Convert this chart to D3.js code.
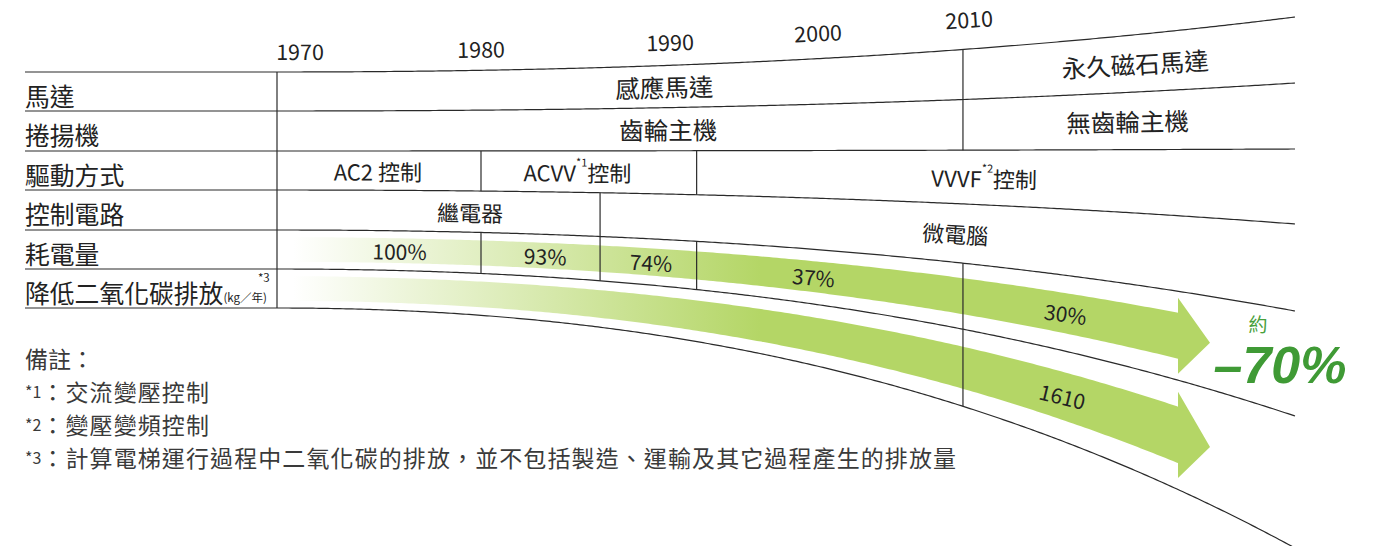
<!DOCTYPE html>
<html><head><meta charset="utf-8">
<script src="https://cdn.jsdelivr.net/npm/d3@7"></script>
<style>body{margin:0;background:#fff;} svg{display:block}</style>
</head><body><svg id="c" width="1383" height="546"></svg>
<script>
// ---------------- data ----------------
const years = [1970, 1980, 1990, 2000, 2010];
const rowLabels = ["馬達", "捲揚機", "驅動方式", "控制電路", "耗電量", "降低二氧化碳排放"];
// [label, fromYear, toYear, labelYear]  (null = edge of table)
const motorCells   = [["感應馬達", null, 2009.6, 1989.7], ["永久磁石馬達", 2009.6, null, 2021]];
const hoistCells   = [["齒輪主機", null, 2009.6, 1989.9], ["無齒輪主機", 2009.6, null, 2020.5]];
const driveCells   = [["AC2 控制", null, 1980, 1974.3], ["ACVV|*1|控制", 1980, 1991.8, 1985.1], ["VVVF|*2|控制", 1991.8, null, 2011]];
const circuitCells = [["繼電器", null, 1986.3, 1979.4], ["微電腦", 1986.3, null, 2009.1]];
const powerValues  = ["100%", "93%", "74%", "37%", "30%"];
const powerEras    = [[null, 1980, 1975.5], [1980, 1986.3, 1983.4], [1986.3, 1991.8, 1989], [1991.8, 2009.6, 1999.7], [2009.6, null, 2016.4]];
const co2Values    = ["", "1610"];
const co2Eras      = [[null, 2009.6, 1990], [2009.6, null, 2016.2]];
const reductionLabel = "約";
const reductionValue = "–70%";
const noteTitle = "備註：";
const noteMarks = ["*1", "*2", "*3"];
const noteTexts = ["：交流變壓控制", "：變壓變頻控制", "：計算電梯運行過程中二氧化碳的排放，並不包括製造、運輸及其它過程產生的排放量"];

// ---------------- layout ----------------
const svg = d3.select("#c");
const FONT = "'Noto Sans CJK TC','Noto Sans',sans-serif";
const labelLeft = 25, tableLeft = 277, tableRight = 1295;
const lineY0 = [72, 111, 151, 190, 230, 269, 308];
const lineBend = [-55, -28, -2, 34, 81, 147, 240];
const x = d3.scaleLinear().domain(years).range([300, 481, 670, 818, 969]);
const span = tableRight - tableLeft;
const g = t => 0.7 * t * t + 0.3 * t * t * t;
const gp = t => 1.4 * t + 0.9 * t * t;
const tOf = px => Math.max(0, (px - tableLeft) / span);
const lineY = (i, px) => lineY0[i] + lineBend[i] * g(tOf(px));
const lineSlope = (i, px) => lineBend[i] * gp(tOf(px)) / span;
const rowMid = (r, px) => (lineY(r, px) + lineY(r + 1, px)) / 2;
const rowAngle = (r, px) => Math.atan((lineSlope(r, px) + lineSlope(r + 1, px)) / 2) * 180 / Math.PI * 0.8;

// gradient
const defs = svg.append("defs");
const grad = defs.append("linearGradient").attr("id", "gr").attr("gradientUnits", "userSpaceOnUse")
  .attr("x1", 293).attr("x2", 760).attr("y1", 0).attr("y2", 0);
grad.append("stop").attr("offset", 0).attr("stop-color", "#ffffff");
grad.append("stop").attr("offset", 1).attr("stop-color", "#b4d666");

// bands with arrow heads
const bandStart = 293, shaftEnd = 1178, tipX = 1210, headExtra = 15;
function bandPath(r) {
  const mid = px => rowMid(r, px);
  const half = px => (lineY(r + 1, px) - lineY(r, px)) * (0.32 - 0.07 * tOf(px));
  const xs = d3.range(bandStart, shaftEnd, 4).concat([shaftEnd]);
  const pts = xs.map(px => [px, mid(px) - half(px)]);
  pts.push([shaftEnd, mid(shaftEnd) - half(shaftEnd) - headExtra]);
  pts.push([tipX, mid(tipX)]);
  pts.push([shaftEnd, mid(shaftEnd) + half(shaftEnd) + headExtra]);
  xs.slice().reverse().forEach(px => pts.push([px, mid(px) + half(px)]));
  return d3.line()(pts) + "Z";
}
svg.append("g").selectAll("path").data([4, 5]).join("path")
  .attr("d", d => bandPath(d)).attr("fill", "url(#gr)");

// horizontal (curved) lines
const xsLine = d3.range(tableLeft, tableRight, 3).concat([tableRight]);
svg.append("g").selectAll("path").data(lineY0.map((_, i) => i)).join("path")
  .attr("d", i => d3.line()([[labelLeft, lineY0[i]]].concat(xsLine.map(px => [px, lineY(i, px)]))))
  .attr("fill", "none").attr("stroke", "#2a2a2a").attr("stroke-width", 1.2);

// vertical dividers
const rowsCells = [motorCells, hoistCells, driveCells, circuitCells,
  powerEras.map((e, i) => [powerValues[i], e[0], e[1], e[2]]),
  co2Eras.map((e, i) => [co2Values[i], e[0], e[1], e[2]])];
const dividers = [];
rowsCells.forEach((cells, r) => {
  dividers.push([tableLeft, r]);
  cells.forEach(c => { if (c[1] != null) dividers.push([x(c[1]), r]); });
});
svg.append("g").selectAll("line").data(dividers).join("line")
  .attr("x1", d => d[0]).attr("x2", d => d[0])
  .attr("y1", d => lineY(d[1], d[0])).attr("y2", d => lineY(d[1] + 1, d[0]))
  .attr("stroke", "#2a2a2a").attr("stroke-width", 1.2);

// row labels
const rl = svg.append("g").attr("font-family", FONT).attr("fill", "#222");
rowLabels.forEach((t, r) => {
  const txt = rl.append("text").attr("x", labelLeft).attr("y", rowMid(r, 0) + 3)
    .attr("dominant-baseline", "central").attr("font-size", 24.8).text(t);
  if (r === 5) {
    txt.append("tspan").attr("font-size", 11.5).attr("dy", 5).text("(kg／年)");
    txt.append("tspan").attr("font-size", 11.5).attr("dx", -9).attr("dy", -20).text("*3");
  }
});

// cell labels
const cl = svg.append("g").attr("font-family", FONT).attr("fill", "#222");
const cellFont = [24.5, 24.5, 22, 22, 21, 21];
rowsCells.forEach((cells, r) => {
  cells.forEach(c => {
    if (!c[0]) return;
    const px = x(c[3]), py = rowMid(r, px);
    const gg = cl.append("g").attr("transform", `translate(${px},${py}) rotate(${rowAngle(r, px)})`);
    const t = gg.append("text").attr("text-anchor", "middle").attr("dominant-baseline", "central")
      .attr("font-size", cellFont[r]);
    const parts = c[0].split("|");
    if (parts.length === 3) {
      t.append("tspan").text(parts[0]);
      t.append("tspan").attr("font-size", 11).attr("dy", -10).text(parts[1]);
      t.append("tspan").attr("dy", 10).text(parts[2]);
    } else t.text(c[0]);
  });
});

// year labels along a curve above the table
const yearY = px => 50.5 - 77 * g(tOf(px));
const yearAngle = px => Math.atan(-77 * gp(tOf(px)) / span) * 180 / Math.PI * 0.6;
svg.append("g").selectAll("text").data(years).join("text")
  .attr("transform", d => `translate(${x(d)},${yearY(x(d))}) rotate(${yearAngle(x(d))})`)
  .attr("text-anchor", "middle").attr("dominant-baseline", "central")
  .attr("font-family", FONT).attr("font-size", 21.5).attr("fill", "#222").text(d => d);

// reduction annotation
const tipY = rowMid(4, tipX);
svg.append("text").attr("x", tipX + 48).attr("y", tipY - 19).attr("text-anchor", "middle")
  .attr("dominant-baseline", "central").attr("font-family", FONT).attr("font-size", 19)
  .attr("fill", "#48a03c").text(reductionLabel);
svg.append("text").attr("x", tipX + 70).attr("y", tipY + 40).attr("text-anchor", "middle")
  .attr("font-family", "'Liberation Sans',Arial,sans-serif").attr("font-weight", 700).attr("font-style", "italic")
  .attr("font-size", 52).attr("fill", "#3f9a35").text(reductionValue);

// notes
const nt = svg.append("g").attr("font-family", FONT).attr("fill", "#3a3a3a");
nt.append("text").attr("x", labelLeft).attr("y", 358).attr("dominant-baseline", "central")
  .attr("font-size", 23).text(noteTitle);
noteMarks.forEach((m, i) => {
  const t = nt.append("text").attr("x", labelLeft).attr("y", 391 + i * 33).attr("dominant-baseline", "central");
  t.append("tspan").attr("font-size", 16).text(m);
  t.append("tspan").attr("font-size", 23).attr("letter-spacing", 1.1).text(noteTexts[i]);
});
</script></body></html>
